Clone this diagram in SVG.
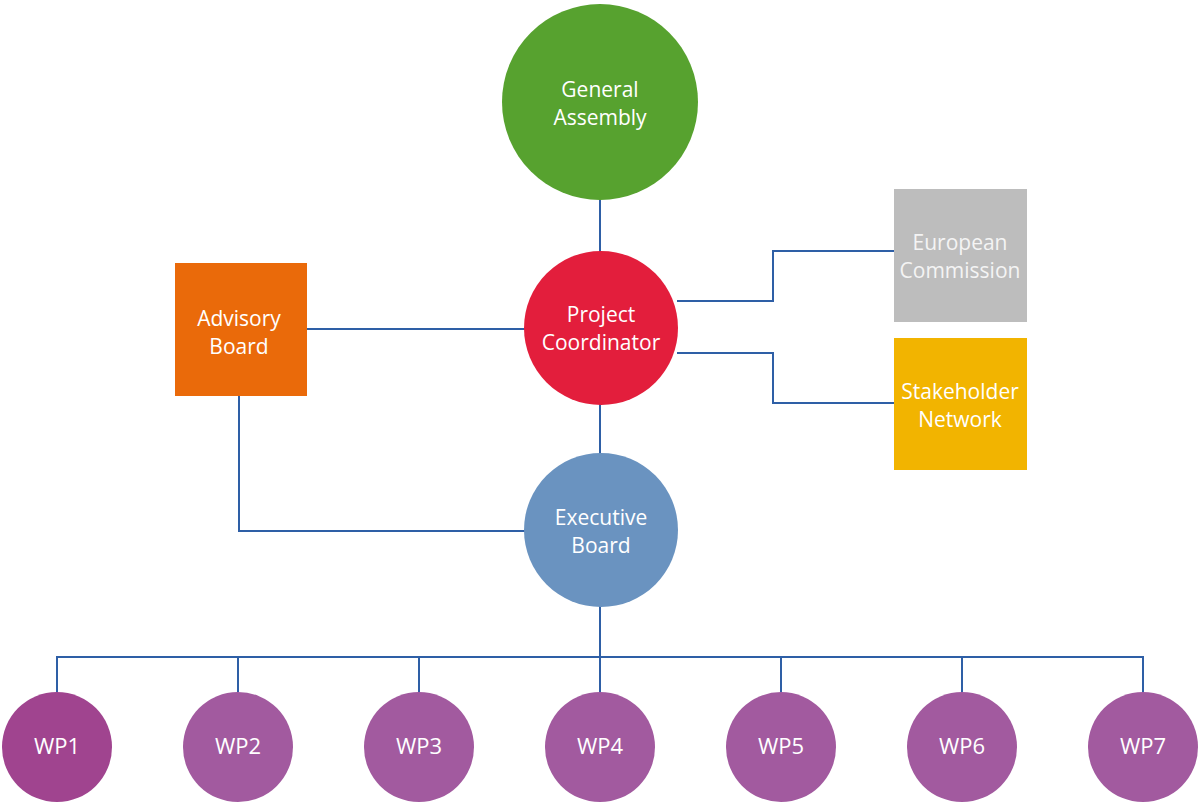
<svg xmlns="http://www.w3.org/2000/svg" width="1200" height="804" viewBox="0 0 1200 804">
<style>
.lbl{font-family:"Open Sans","Liberation Sans",sans-serif;font-size:21px;fill:#ffffff;text-anchor:middle}
.lgt{fill:#f4f4f4}
.wpl{font-size:22px}
.conn{fill:none;stroke:#2E5FA6;stroke-width:2}
.wp{fill:#A25A9F}
</style>
<rect width="1200" height="804" fill="#ffffff"/>
<g id="connectors" class="conn">
<path d="M600 200 V252"/>
<path d="M307 329 H525"/>
<path d="M239 396 V531 H526"/>
<path d="M600 404 V455"/>
<path d="M677 301 H773 V251 H894"/>
<path d="M677 353 H773 V403 H894"/>
<path d="M600 606 V657"/>
<path d="M57 692 V657 H1143 V692"/>
<path d="M238 657 V692 M419 657 V692 M600 657 V692 M781 657 V692 M962 657 V692"/>
</g>
<g id="general-assembly">
<circle cx="600" cy="102" r="98" fill="#57A22F"/>
<text class="lbl" x="600" y="97">General</text>
<text class="lbl" x="600" y="125">Assembly</text>
</g>
<g id="project-coordinator">
<circle cx="601" cy="328" r="77" fill="#E31E3C"/>
<text class="lbl" x="601" y="322">Project</text>
<text class="lbl" x="601" y="350">Coordinator</text>
</g>
<g id="advisory-board">
<rect x="175" y="263" width="132" height="133" fill="#EA6A0A"/>
<text class="lbl" x="239" y="326">Advisory</text>
<text class="lbl" x="239" y="354">Board</text>
</g>
<g id="european-commission">
<rect x="894" y="189" width="133" height="133" fill="#BDBDBD"/>
<text class="lbl lgt" x="960" y="250">European</text>
<text class="lbl lgt" x="960" y="278">Commission</text>
</g>
<g id="stakeholder-network">
<rect x="894" y="338" width="133" height="132" fill="#F2B400"/>
<text class="lbl" x="960" y="399">Stakeholder</text>
<text class="lbl" x="960" y="427">Network</text>
</g>
<g id="executive-board">
<circle cx="601" cy="530" r="77" fill="#6A93C0"/>
<text class="lbl" x="601" y="525">Executive</text>
<text class="lbl" x="601" y="553">Board</text>
</g>
<g id="wp1"><circle cx="57" cy="747" r="55" fill="#A0448F"/><text class="lbl wpl" x="57" y="754">WP1</text></g>
<g id="wp2"><circle class="wp" cx="238" cy="747" r="55"/><text class="lbl wpl" x="238" y="754">WP2</text></g>
<g id="wp3"><circle class="wp" cx="419" cy="747" r="55"/><text class="lbl wpl" x="419" y="754">WP3</text></g>
<g id="wp4"><circle class="wp" cx="600" cy="747" r="55"/><text class="lbl wpl" x="600" y="754">WP4</text></g>
<g id="wp5"><circle class="wp" cx="781" cy="747" r="55"/><text class="lbl wpl" x="781" y="754">WP5</text></g>
<g id="wp6"><circle class="wp" cx="962" cy="747" r="55"/><text class="lbl wpl" x="962" y="754">WP6</text></g>
<g id="wp7"><circle class="wp" cx="1143" cy="747" r="55"/><text class="lbl wpl" x="1143" y="754">WP7</text></g>
</svg>
